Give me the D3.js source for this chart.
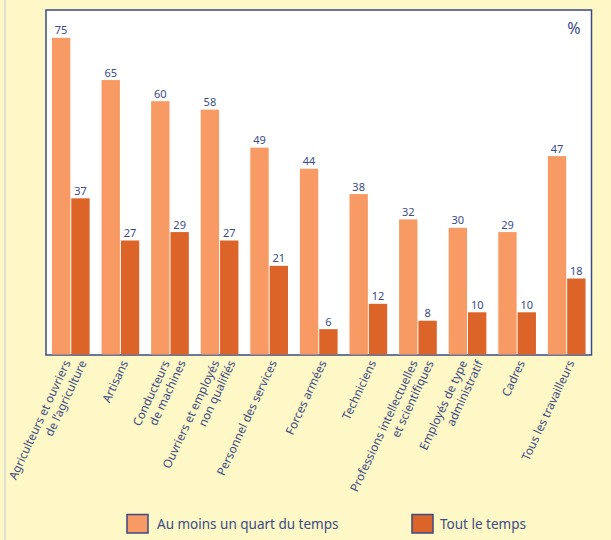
<!DOCTYPE html>
<html>
<head>
<meta charset="utf-8">
<script src="https://cdn.jsdelivr.net/npm/d3@7"></script>
<style>
  body { margin: 0; background: #fef7c6; }
  svg { display: block; font-family: "Noto Sans", sans-serif; }
</style>
</head>
<body>
<svg id="graphe" width="611" height="540"></svg>
<script>
////////////////////////////////////
// Données //
////////////////////////////////////
const categories = [
    "Agriculteurs et ouvriers\nde l’agriculture",
    "Artisans",
    "Conducteurs\nde machines",
    "Ouvriers et employés\nnon qualifiés",
    "Personnel des services",
    "Forces armées",
    "Techniciens",
    "Professions intellectuelles\net scientifiques",
    "Employés de type\nadministratif",
    "Cadres",
    "Tous les travailleurs"
];
const series = ["Au moins un quart du temps", "Tout le temps"];
const quartDuTemps = [75, 65, 60, 58, 49, 44, 38, 32, 30, 29, 47];
const toutLeTemps = [37, 27, 29, 27, 21, 6, 12, 8, 10, 10, 18];

const couleurs = ["#f79a63", "#dc6428"];
const bleu = "#3a4b85";

const svg = d3.select("#graphe");

// petit trait gris sur le bord gauche
svg.append("line").attr("x1", 5).attr("x2", 5).attr("y1", 0).attr("y2", 540)
    .attr("stroke", "#c9cedf").attr("stroke-width", 1.2);

// cadre blanc du graphique
const gauche = 46, droite = 591.5, haut = 10, bas = 355;
svg.append("rect").attr("x", gauche).attr("y", haut)
    .attr("width", droite - gauche).attr("height", bas - haut)
    .attr("fill", "white").attr("stroke", bleu).attr("stroke-width", 1.5);

// échelles
const x0 = d3.scaleBand().domain(categories).range([gauche, droite])
    .paddingInner(0.24).paddingOuter(0.12);
const x1 = d3.scaleBand().domain(series).range([0, x0.bandwidth()]).paddingInner(0.05);
const y = d3.scaleLinear().domain([0, 81.6]).range([354.5, haut]);

const lignes = categories.map((c, i) => ({
    cat: c,
    valeurs: [quartDuTemps[i], toutLeTemps[i]]
}));

// barres
const groupes = svg.selectAll("g.groupe").data(lignes).enter().append("g")
    .attr("class", "groupe")
    .attr("transform", d => "translate(" + x0(d.cat) + ",0)");

groupes.selectAll("rect").data(d => d.valeurs.map((v, k) => ({ serie: series[k], v: v, k: k })))
    .enter().append("rect")
    .attr("x", d => x1(d.serie))
    .attr("y", d => y(d.v))
    .attr("width", x1.bandwidth())
    .attr("height", d => y(0) - y(d.v))
    .attr("fill", d => couleurs[d.k]);

// valeurs au-dessus des barres
groupes.selectAll("text").data(d => d.valeurs.map((v, k) => ({ serie: series[k], v: v })))
    .enter().append("text")
    .attr("x", d => x1(d.serie) + x1.bandwidth() / 2)
    .attr("y", d => y(d.v) - 3.5)
    .attr("text-anchor", "middle")
    .attr("font-size", 11)
    .attr("fill", bleu)
    .text(d => d.v);

// symbole %
svg.append("text").attr("x", 574).attr("y", 34).attr("text-anchor", "middle")
    .attr("font-size", 16).attr("fill", bleu).text("%");

// étiquettes des catégories (tournées)
categories.forEach(c => {
    const morceaux = c.split("\n");
    const centre = x0(c) + x0.bandwidth() / 2;
    morceaux.forEach((m, j) => {
        const decal = morceaux.length === 1 ? 0 : (j === 0 ? -8 : 8);
        svg.append("text")
            .attr("transform", "translate(" + (centre + decal) + ",359) rotate(-65)")
            .attr("text-anchor", "end")
            .attr("dy", "0.75em")
            .attr("font-size", 11.8)
            .attr("fill", bleu)
            .text(m);
    });
});

// légende
const legende = [{ x: 127, tx: 157 }, { x: 412, tx: 440 }];
legende.forEach((l, i) => {
    svg.append("rect").attr("x", l.x).attr("y", 514.5).attr("width", 21).attr("height", 18.5)
        .attr("fill", couleurs[i]).attr("stroke", bleu).attr("stroke-width", 1.5);
    svg.append("text").attr("x", l.tx).attr("y", 528.5)
        .attr("font-size", 13.5).attr("fill", bleu).text(series[i]);
});
</script>
</body>
</html>
